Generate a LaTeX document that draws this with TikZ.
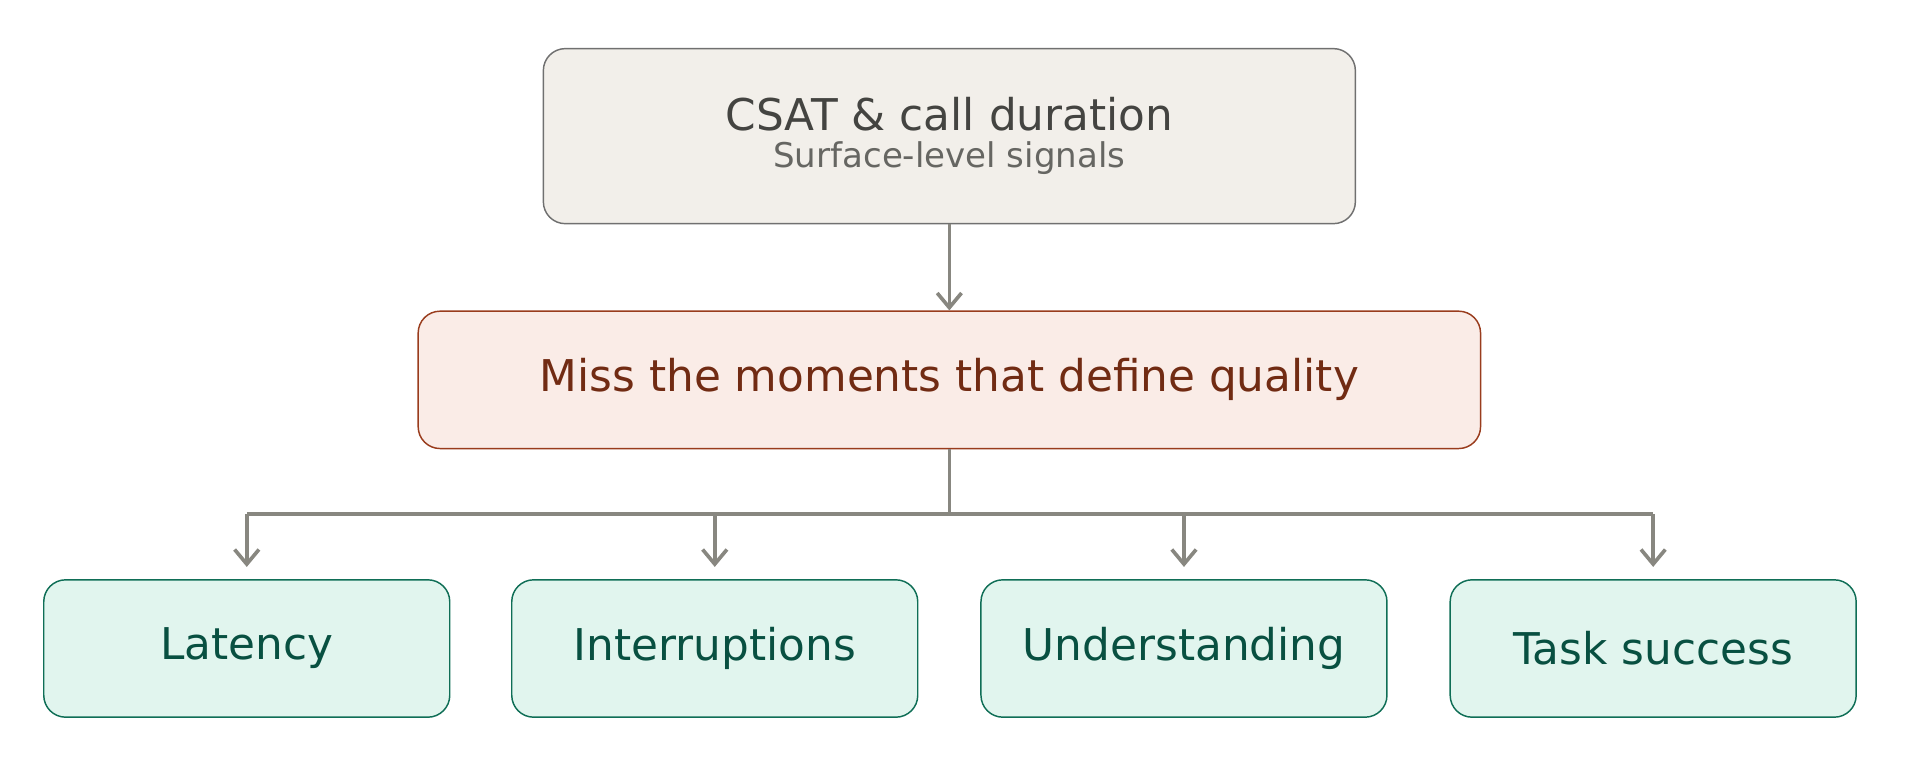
\documentclass[tikz,border=0pt]{standalone}
\usepackage{fontspec}
\setmainfont{DejaVu Sans}
\usetikzlibrary{arrows.meta}
\definecolor{topfill}{HTML}{F2EFEA}\definecolor{topline}{HTML}{707070}\definecolor{toptext}{HTML}{444441}\definecolor{subtext}{HTML}{666662}
\definecolor{midfill}{HTML}{FAECE7}\definecolor{midline}{HTML}{993C1D}\definecolor{midtext}{HTML}{712B13}
\definecolor{botfill}{HTML}{E1F5EE}\definecolor{botline}{HTML}{0F6E56}\definecolor{bottext}{HTML}{085041}
\definecolor{arr}{HTML}{888780}
\begin{document}
\begin{tikzpicture}[x=0.5pt,y=-0.5pt,
 box/.style={rounded corners=9pt,line width=0.6pt,inner sep=0pt},
 leaf/.style={box,fill=botfill,draw=botline,minimum width=167pt,minimum height=56.5pt,text=bottext,font=\fontsize{18}{22}\selectfont},
 conn/.style={draw=arr,line width=1.5pt},
 tip/.style={conn,-{Straight Barb[length=6pt,width=10pt,line width=1.5pt]}}]
\useasboundingbox (0,0) rectangle (1568,641);
\node[box,fill=topfill,draw=topline,minimum width=334pt,minimum height=72pt,align=center] (top) at (781,112)
 {{\color{toptext}\fontsize{18}{22}\selectfont CSAT \& call duration}\\[3pt]{\color{subtext}\fontsize{14}{17}\selectfont Surface-level signals}};
\node[box,fill=midfill,draw=midline,minimum width=437pt,minimum height=56.5pt,text=midtext,font=\fontsize{18}{22}\selectfont] (mid) at (781,312.5) {Miss the moments that define quality};
\node[leaf] (a) at (203,533.5) {Latency};
\node[leaf] (b) at (588,533.5) {Interruptions};
\node[leaf] (c) at (974,533.5) {Understanding};
\node[leaf] (d) at (1360,533.5) {Task success};
\coordinate (j) at (781,423);
\coordinate (ja) at (203,423);\coordinate (jd) at (1360,423);
\draw[tip] (top.south) -- (mid.north);
\draw[conn] (mid.south) -- (j);
\draw[conn] (ja) -- (jd);
\foreach \n in {a,b,c,d}{\draw[tip] (ja -| \n.north) -- ([yshift=5pt]\n.north);}
\end{tikzpicture}
\end{document}
